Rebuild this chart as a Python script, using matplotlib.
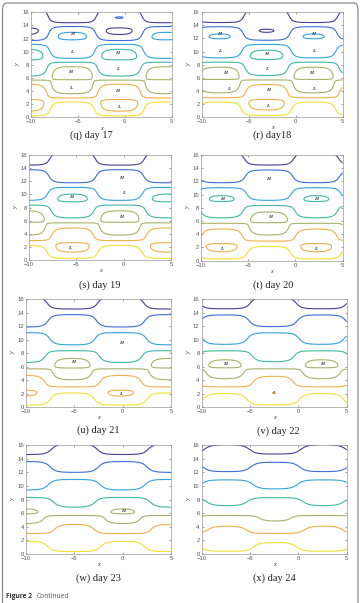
import numpy as np
import matplotlib
matplotlib.use('Agg')
import matplotlib.pyplot as plt
from matplotlib.patches import FancyBboxPatch

# ---------------- data ----------------
captions = ['(q) day 17', '(r) day18', '(s) day 19', '(t) day 20',
            '(u) day 21', '(v) day 22', '(w) day 23', '(x) day 24']
# x-position of the wave cell column (H at y~12.5 / 6.9) for each day
phase_x = [-5.6, -8.1, -0.4, -2.8, -5.2, -7.6, 0.0, -2.4]
# perturbation amplitude for each day
amplitude = [2.6, 2.3, 2.05, 1.85, 1.6, 1.4, 1.15, 0.9]
wavelength_x = 10.0
wavelength_y = 5.65
row_offset_y = 1.45
contour_levels = [-15.2, -12.8, -10.4, -8.0, -5.6, -3.2, -0.8]
level_colors = ['#4b3d94', '#3a6ed6', '#33a3dc', '#3fb8a4',
                '#a8b26a', '#eeb04a', '#f2e034']
x_ticks = [-10, -5, 0, 5]
y_ticks = [0, 2, 4, 6, 8, 10, 12, 14, 16]

hl_q = [(-5.6, 12.7, 'H'), (-5.7, 10.0, 'L'), (-0.8, 9.85, 'H'), (-0.8, 7.3, 'L'),
        (-5.8, 6.95, 'H'), (-5.8, 4.4, 'L'), (-0.8, 4.0, 'H'), (-0.7, 1.5, 'L')]
hl_r = [(-8.1, 12.7, 'H'), (1.9, 12.7, 'H'), (-8.1, 10.1, 'L'), (1.9, 10.1, 'L'),
        (-3.1, 9.7, 'H'), (-3.1, 7.3, 'L'), (-7.5, 6.8, 'H'), (1.6, 6.8, 'H'),
        (-7.1, 4.3, 'L'), (1.9, 4.3, 'L'), (-2.9, 4.1, 'H'), (-3.0, 1.7, 'L')]
hl_s = [(-0.3, 12.45, 'H'), (0.0, 10.2, 'L'), (-5.5, 9.55, 'H'), (-0.3, 6.6, 'H'),
        (-5.7, 1.8, 'L')]
hl_t = [(-2.9, 12.3, 'H'), (-7.8, 9.3, 'H'), (2.2, 9.3, 'H'), (-2.7, 6.65, 'H'),
        (-7.8, 1.75, 'L'), (2.1, 1.75, 'L')]
hl_u = [(-0.2, 9.45, 'H'), (-5.1, 6.6, 'H'), (-0.2, 1.9, 'L')]
hl_v = [(-7.6, 6.33, 'H'), (2.5, 6.33, 'H'), (-2.6, 2.1, 'L')]
hl_w = [(0.07, 6.3, 'H')]
hl_x = []
hl_labels = [hl_q, hl_r, hl_s, hl_t, hl_u, hl_v, hl_w, hl_x]

# axes boxes in pixels: left, top, right, bottom
axes_px = [(31, 12.3, 171.7, 117.3), (201.7, 12.3, 342.7, 117.0),
           (29, 155, 171, 260), (201, 155, 342.7, 260.7),
           (26, 299, 171, 407), (201.7, 299, 346.7, 407),
           (26, 445, 171, 554), (201.7, 445, 346.7, 554)]
caption_px = [(91, 135), (272, 135), (100, 285), (273, 285),
              (98, 430), (278, 431), (98, 578), (274, 578)]

W, H = 362, 603
fig = plt.figure(figsize=(W / 100, H / 100), dpi=100)
fig.patch.set_facecolor('white')

# frame
frame = FancyBboxPatch((2.5 / W, -0.05), (358 - 2.5) / W, (H - 3) / H + 0.05,
                       boxstyle='round,pad=0,rounding_size=0.012',
                       transform=fig.transFigure, fill=False,
                       edgecolor='#8a8a8a', lw=0.9)
fig.patches.append(frame)

xg = np.linspace(-10, 5, 400)
yg = np.linspace(0, 16, 400)
X, Y = np.meshgrid(xg, yg)

def square_wave(arg, s):
    return np.tanh(s * np.cos(arg)) / np.tanh(s)

serif = ['Liberation Serif', 'DejaVu Serif']
sans = ['Liberation Sans', 'DejaVu Sans']

for i in range(8):
    L, T, R, B = axes_px[i]
    ax = fig.add_axes([L / W, 1 - B / H, (R - L) / W, (B - T) / H])
    sx = square_wave(2 * np.pi * (X - phase_x[i]) / wavelength_x, 1.7)
    cy = square_wave(2 * np.pi * (Y - row_offset_y) / wavelength_y, 0.6)
    Z = -Y + amplitude[i] * sx * cy
    ax.contour(X, Y, Z, levels=contour_levels, colors=level_colors, linewidths=0.8)
    for (hx, hy, t) in hl_labels[i]:
        ax.text(hx, hy, t, fontsize=3.8, fontstyle='italic', fontweight='bold',
                family=serif, color='#333333', ha='center', va='center')
    ax.set_xlim(-10, 5)
    ax.set_ylim(0, 16)
    ax.set_xticks(x_ticks)
    ax.set_yticks(y_ticks)
    ax.tick_params(direction='in', length=1.5, width=0.4, labelsize=4.2,
                   pad=1.5, colors='#555555', top=True, right=True)
    for lab in ax.get_xticklabels() + ax.get_yticklabels():
        lab.set_family(sans)
    for sp in ax.spines.values():
        sp.set_color('#9a9a9a')
        sp.set_linewidth(0.5)
    ax.set_xlabel('x', fontsize=4.5, fontstyle='italic', family=serif,
                  labelpad=1.0, color='#333333')
    ax.set_ylabel('y', fontsize=4.5, fontstyle='italic', family=serif,
                  labelpad=1.0, color='#333333')
    cxp, cyp = caption_px[i]
    fig.text(cxp / W, 1 - cyp / H, captions[i], fontsize=7.5, family=serif,
             ha='center', va='center', color='#222222')

fig.text(6 / W, 1 - 597 / H, 'Figure 2', fontsize=4.8, fontweight='bold',
         family=['Open Sans', 'DejaVu Sans'], color='#333333', ha='left', va='center')
fig.text(37 / W, 1 - 597 / H, 'Continued', fontsize=4.8,
         family=['Open Sans', 'DejaVu Sans'], color='#555555', ha='left', va='center')

fig.savefig('out.png', dpi=100)
